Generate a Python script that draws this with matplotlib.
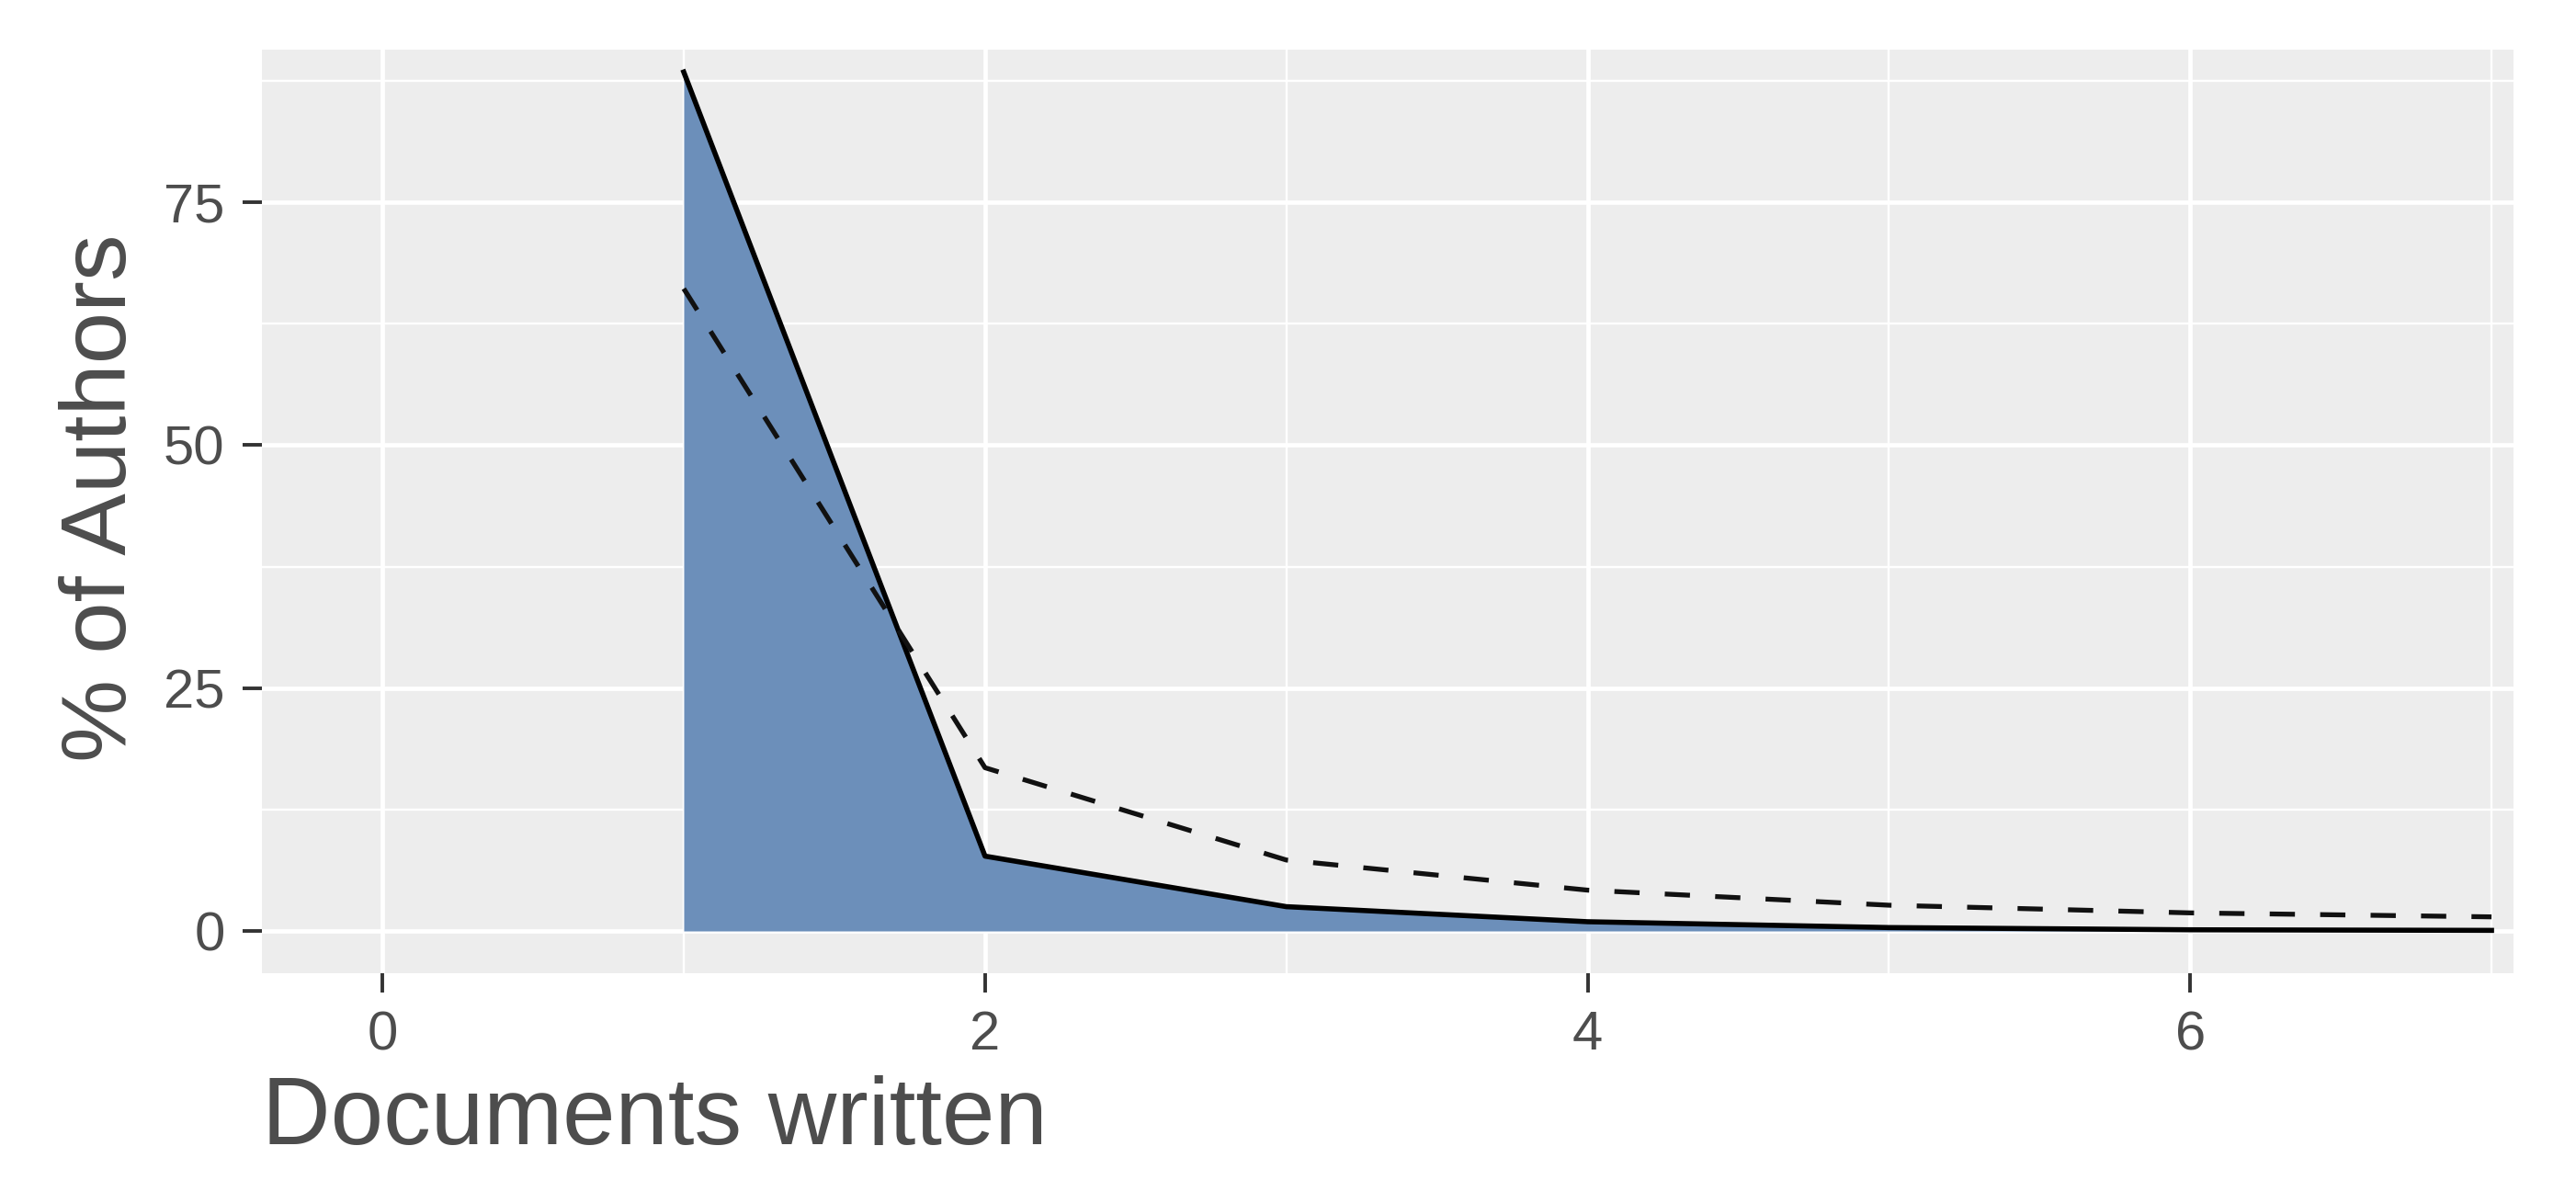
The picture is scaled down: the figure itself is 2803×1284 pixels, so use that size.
import matplotlib
matplotlib.use("Agg")
import matplotlib.pyplot as plt
from matplotlib.ticker import MultipleLocator

plt.rcParams['font.family'] = ['Liberation Sans', 'DejaVu Sans']

# Lotka's law: observed vs theoretical share of authors
docs = [1, 2, 3, 4, 5, 6, 7]
observed = [88.4, 7.7, 2.5, 0.95, 0.35, 0.12, 0.06]
theoretical = [66.1, 16.8, 7.3, 4.2, 2.65, 1.86, 1.45]

x_ticks = [0, 2, 4, 6]
y_ticks = [0, 25, 50, 75]

fill_col = "#6c8fba"
panel_col = "#ededed"
text_col = "#4d4d4d"

fig = plt.figure(figsize=(2803 / 200, 1284 / 200), dpi=200)
ax = fig.add_axes([285 / 2803, 1 - 1059 / 1284, (2735 - 285) / 2803, (1059 - 54) / 1284])
ax.set_facecolor(panel_col)
for s in ax.spines.values():
    s.set_visible(False)

ax.set_xlim(-0.40, 7.073)
ax.set_ylim(-4.35, 90.7)
ax.set_xticks(x_ticks)
ax.set_yticks(y_ticks)
ax.xaxis.set_minor_locator(MultipleLocator(1))
ax.yaxis.set_minor_locator(MultipleLocator(12.5))
ax.grid(which='major', color='white', lw=1.7)
ax.grid(which='minor', color='white', lw=0.85)
ax.set_axisbelow(True)
ax.tick_params(which='major', length=7.5, width=1.4, color='#333333',
               labelsize=21.5, labelcolor=text_col)
ax.tick_params(axis='x', pad=7)
ax.tick_params(axis='y', pad=7)
ax.tick_params(which='minor', length=0)

ax.fill_between(docs, observed, 0, color=fill_col, lw=0)
ax.plot(docs, observed, color='black', lw=2.0, solid_joinstyle='round')
ax.plot(docs, theoretical, color='#111111', lw=1.9, dashes=(5.2, 5.2))

fig.text(285 / 2803, 1 - 1245 / 1284, "Documents written", ha='left', va='baseline',
         fontsize=37.2, color=text_col)
fig.text(111 / 2803, 1 - 542 / 1284, "% of Authors", ha='center', va='center',
         rotation=90, fontsize=36.5, color=text_col)

fig.savefig("out.png", dpi=200, facecolor='white')
